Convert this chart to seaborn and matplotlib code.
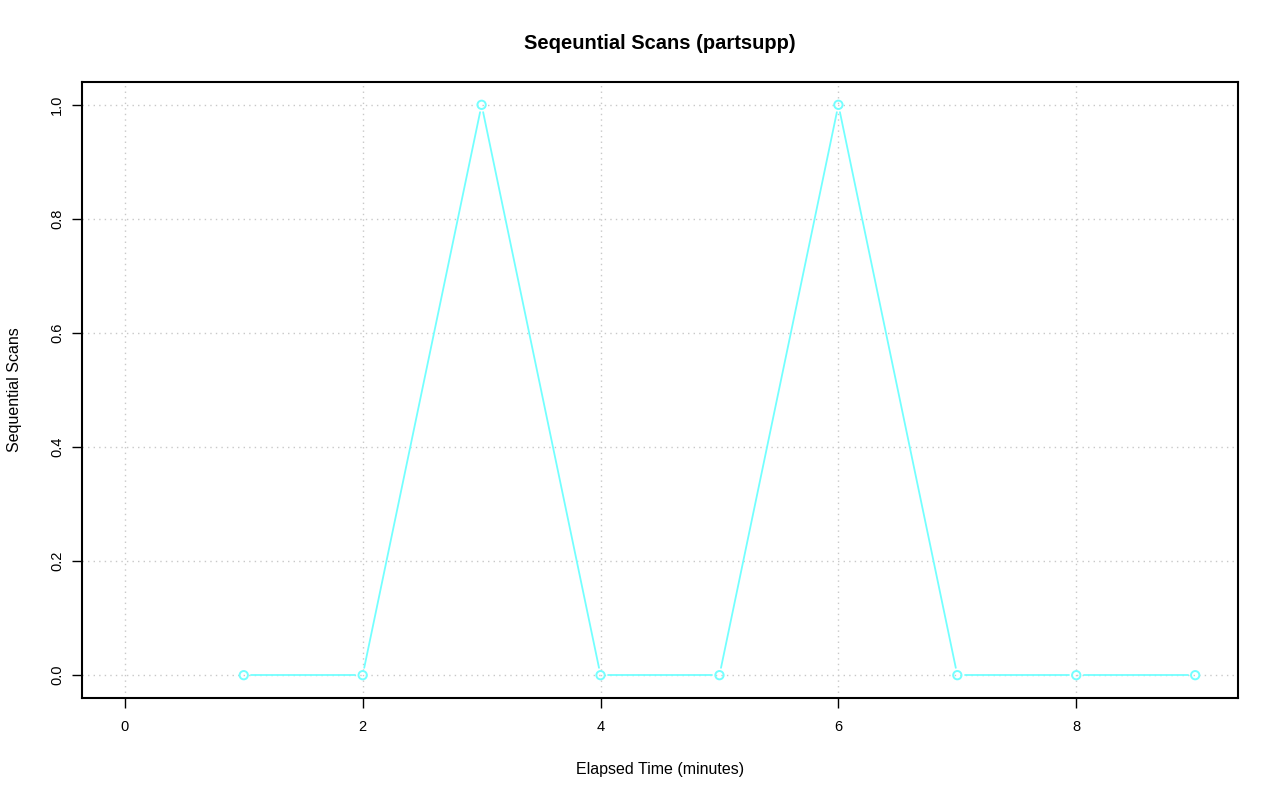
import numpy as np
import pandas as pd
import matplotlib
matplotlib.use("Agg")
import matplotlib.pyplot as plt
import seaborn as sns

# data
minutes = [1, 2, 3, 4, 5, 6, 7, 8, 9]
seq_scans = [0, 0, 1, 0, 0, 1, 0, 0, 0]
x_ticks = [0, 2, 4, 6, 8]
y_ticks = [0.0, 0.2, 0.4, 0.6, 0.8, 1.0]

df = pd.DataFrame({"minutes": minutes, "scans": seq_scans})
line_color = "#73ffff"

sns.set_style("white")
plt.rcParams["font.family"] = ["Liberation Sans", "DejaVu Sans"]
plt.rcParams["text.color"] = "black"
plt.rcParams["axes.labelcolor"] = "black"
plt.rcParams["xtick.color"] = "black"
plt.rcParams["ytick.color"] = "black"

fig = plt.figure(figsize=(12.8, 8.01), dpi=100)
ax = fig.add_axes([82 / 1280, 1 - 698 / 801, (1238 - 82) / 1280, (698 - 82) / 801])

# R-style 4% padding
ax.set_xlim(-0.36, 9.36)
ax.set_ylim(-0.04, 1.04)

for t in x_ticks:
    ax.axvline(t, color="#c8c8c8", linestyle=(0, (1, 3)), linewidth=1, zorder=0)
for t in y_ticks:
    ax.axhline(t, color="#c8c8c8", linestyle=(0, (1, 3)), linewidth=1, zorder=0)

# type="b" look: line segments stop short of each point
gap = 7.5
pts = ax.transData.transform(np.column_stack([df["minutes"], df["scans"]]))
inv = ax.transData.inverted()
for p0, p1 in zip(pts[:-1], pts[1:]):
    d = p1 - p0
    n = np.hypot(*d)
    if n <= 2 * gap:
        continue
    u = d / n
    a, b = inv.transform([p0 + u * gap, p1 - u * gap])
    ax.plot([a[0], b[0]], [a[1], b[1]], color=line_color, linewidth=1.3, zorder=2)

sns.scatterplot(data=df, x="minutes", y="scans", ax=ax, marker="o", s=36,
                facecolor="none", edgecolor=line_color, linewidth=1.4, zorder=3)

ax.set_xticks(x_ticks)
ax.set_xticklabels([str(t) for t in x_ticks])
ax.set_yticks(y_ticks)
ax.set_yticklabels([f"{t:.1f}" for t in y_ticks], rotation=90, va="center")
ax.tick_params(axis="both", direction="out", length=7, width=1, color="black",
               labelsize=10.5, bottom=True, left=True)
ax.tick_params(axis="x", pad=9)
ax.tick_params(axis="y", pad=6)

for s in ax.spines.values():
    s.set_color("black")
    s.set_linewidth(1.5)

ax.set_xlabel("Elapsed Time (minutes)", fontsize=11.5, labelpad=20)
ax.set_ylabel("Sequential Scans", fontsize=11.5, labelpad=20)
ax.set_title("Seqeuntial Scans (partsupp)", fontsize=14.5, fontweight="bold", pad=24)

fig.savefig("out.png", dpi=100)
